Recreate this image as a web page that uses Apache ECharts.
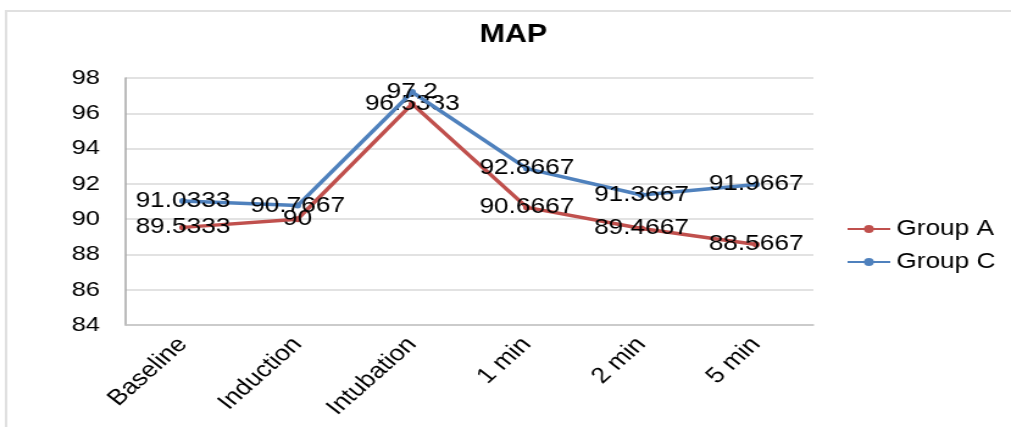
<!DOCTYPE html>
<html>
<head>
<meta charset="utf-8">
<script src="https://cdn.jsdelivr.net/npm/echarts@6/dist/echarts.min.js"></script>
<style>
  html, body { margin: 0; padding: 0; background: #ffffff; }
  #wrap { width: 1011px; height: 427px; overflow: hidden; position: relative; }
  /* the chart is laid out on a narrower canvas and widened horizontally */
  #chart { width: 829px; height: 427px; transform: scaleX(1.2195); transform-origin: 0 0; }
</style>
</head>
<body>
<div id="wrap"><div id="chart"></div></div>
<script>
// Time points of measurement
const categories = ['Baseline', 'Induction', 'Intubation', '1 min', '2 min', '5 min'];
// Mean arterial pressure per group
const groupA = [89.5333, 90, 96.5333, 90.6667, 89.4667, 88.5667];
const groupC = [91.0333, 90.7667, 97.2, 92.8667, 91.3667, 91.9667];
// Value axis range
const yMin = 84;
const yMax = 98;
const yStep = 2;

const FONT = '"Liberation Sans", Arial, sans-serif';

const chart = echarts.init(document.getElementById('chart'), null, { renderer: 'canvas' });

function lineSeries(name, data, color) {
  return {
    name: name,
    type: 'line',
    data: data,
    symbol: 'circle',
    symbolSize: 6,
    lineStyle: { color: color, width: 3.5 },
    itemStyle: { color: color },
    label: {
      show: true,
      position: 'inside',
      color: '#000',
      fontFamily: FONT,
      fontSize: 21.5,
      formatter: p => String(p.value)
    },
    emphasis: { disabled: true },
    z: name === 'Group C' ? 3 : 2
  };
}

chart.setOption({
  animation: false,
  backgroundColor: '#ffffff',
  graphic: [{
    type: 'rect',
    shape: { x: 5, y: 11, width: 900, height: 500 },
    style: { fill: 'none', stroke: '#e0e0e0', lineWidth: 2 },
    silent: true,
    z: -1
  }],
  title: {
    text: 'MAP',
    left: 421,
    textAlign: 'center',
    top: 23,
    padding: 0,
    textStyle: { fontFamily: FONT, fontWeight: 'bold', fontSize: 25, color: '#000' }
  },
  legend: {
    orient: 'vertical',
    left: 694,
    top: 218,
    padding: 0,
    itemWidth: 35,
    itemHeight: 10,
    itemGap: 11,
    data: ['Group A', 'Group C'],
    textStyle: { fontFamily: FONT, fontSize: 21.5, color: '#000' }
  },
  grid: { left: 103, right: 162, top: 78, bottom: 102, containLabel: false },
  xAxis: {
    type: 'category',
    data: categories,
    boundaryGap: true,
    axisLine: { show: true, lineStyle: { color: '#c4c4c4', width: 1.5 } },
    axisTick: { show: false },
    axisLabel: {
      rotate: 47,
      margin: 16,
      fontFamily: FONT,
      fontSize: 22,
      color: '#000'
    }
  },
  yAxis: {
    type: 'value',
    min: yMin,
    max: yMax,
    interval: yStep,
    axisLine: { show: true, lineStyle: { color: '#a6a6a6', width: 1.5 } },
    axisTick: { show: false },
    splitLine: { show: true, lineStyle: { color: '#d9d9d9', width: 1.5 } },
    axisLabel: {
      margin: 21,
      fontFamily: FONT,
      fontSize: 21,
      color: '#000'
    }
  },
  series: [
    lineSeries('Group A', groupA, '#C0504D'),
    lineSeries('Group C', groupC, '#4F81BD')
  ]
});
</script>
</body>
</html>
